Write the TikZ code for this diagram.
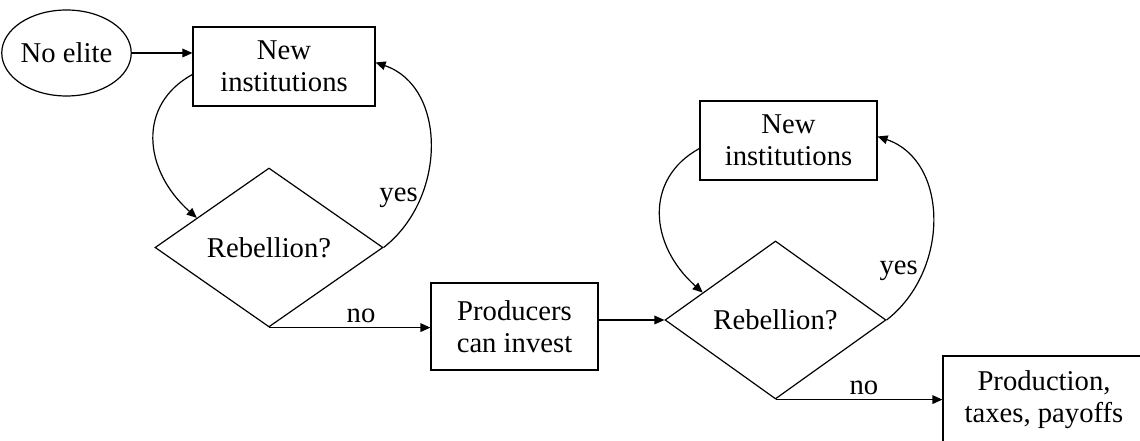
\documentclass[tikz,border=0pt]{standalone}
\usepackage{fontspec}
\setmainfont{Liberation Serif}
\usetikzlibrary{shapes.geometric,arrows.meta,calc}
\begin{document}
\begin{tikzpicture}[x=0.75pt,y=-0.75pt,
  every node/.style={font=\fontsize{21.5}{24}\selectfont},
  box/.style={draw,line width=0.9pt,rectangle,inner sep=0pt,align=center},
  ell/.style={draw,line width=0.9pt,ellipse,inner sep=0pt},
  dia/.style={draw,line width=0.9pt,diamond,inner sep=0pt},
  arr/.style={line width=0.9pt,-{Triangle[length=7.5pt,width=6.5pt]}},
  lbl/.style={inner sep=3.5pt}]
\useasboundingbox (0,0) rectangle (1140,441);
\clip (0,0) rectangle (1140,441);
\node[ell,minimum width=89.25pt,minimum height=64.5pt] (ne) at (66.5,53) {No elite};
\node[box,minimum width=136.5pt,minimum height=59.25pt] (b1) at (284,66.5) {New\\institutions};
\node[dia,minimum width=171pt,minimum height=119.25pt] (d1) at (269,247.5) {Rebellion?};
\node[box,minimum width=125.25pt,minimum height=65.25pt] (p) at (514.5,326.5) {Producers\\can invest};
\node[dia,minimum width=165.75pt,minimum height=118.5pt] (d2) at (775.5,320) {Rebellion?};
\node[box,minimum width=132.75pt,minimum height=59.25pt] (b2) at (788.5,140.5) {New\\institutions};
\node[box,minimum width=151.5pt,minimum height=66pt] (b3) at (1044,400) {Production,\\taxes, payoffs};
\draw[arr] (ne.east) -- (ne.east -| b1.west);
\draw[arr] ($(b1.north west)!0.6!(b1.south west)$) .. controls +(-55,30) and +(-54,-48) .. ($(d1.west)!0.37!(d1.north)$);
\draw[arr] (d1.east) .. controls +(64,-50) and +(71,24) .. ($(b1.north east)!0.45!(b1.south east)$);
\node[anchor=base] (y1) at ($(d1.east)+(15,-46)$) {yes};
\draw[arr] (d1.south) -- node[pos=0.57,above,lbl] (n1) {no} (d1.south -| p.west);
\draw[arr] (d2.west -| p.east) -- (d2.west);
\draw[arr] ($(b2.north west)!0.6!(b2.south west)$) .. controls +(-55,30) and +(-54,-48) .. ($(d2.west)!0.345!(d2.north)$);
\draw[arr] (d2.east) .. controls +(64,-50) and +(71,24) .. ($(b2.north east)!0.45!(b2.south east)$);
\node[anchor=base] (y2) at ($(d2.east)+(12,-45)$) {yes};
\draw[arr] (d2.south) -- node[pos=0.53,above,lbl] (n2) {no} (d2.south -| b3.west);
\end{tikzpicture}
\end{document}
